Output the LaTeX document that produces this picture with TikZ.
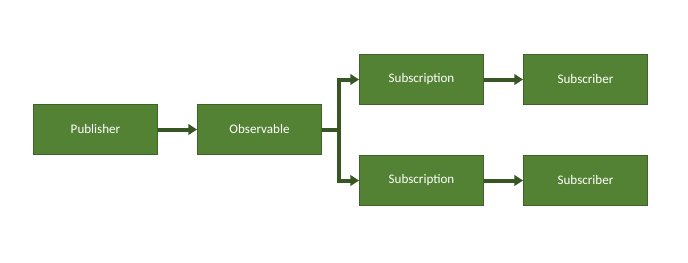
\documentclass[tikz,border=0pt]{standalone}
\usepackage{fontspec}
\setmainfont{Carlito}
\usetikzlibrary{arrows.meta}
\definecolor{boxfill}{HTML}{548235}
\definecolor{boxline}{HTML}{3E6327}
\definecolor{arr}{HTML}{375623}
\begin{document}
\begin{tikzpicture}[x=0.75pt,y=-0.75pt,
  box/.style={draw=boxline,line width=0.75pt,fill=boxfill,minimum width=124*0.75pt,minimum height=50*0.75pt,inner sep=0pt,text=white,font=\fontsize{9.8}{11}\selectfont,anchor=north west},
  conn/.style={draw=arr,line width=3pt,-{Triangle[length=6.5pt,width=8pt]}}]
\useasboundingbox (0,0) rectangle (688,262);
\node[box] (pub) at (33,104) {Publisher};
\node[box] (obs) at (197,104) {Observable};
\node[box] (sub1) at (359,54) {Subscription};
\node[box] (sr1) at (523,54) {Subscriber};
\node[box] (sub2) at (359,155) {Subscription};
\node[box] (sr2) at (523,155) {Subscriber};
\coordinate (br) at (339,129.5);
\draw[conn] (pub) -- (obs);
\draw[conn] (obs.east) -- (br) |- (sub1.west);
\draw[conn] (br) |- (sub2.west);
\draw[conn] (sub1) -- (sr1);
\draw[conn] (sub2) -- (sr2);
\end{tikzpicture}
\end{document}
